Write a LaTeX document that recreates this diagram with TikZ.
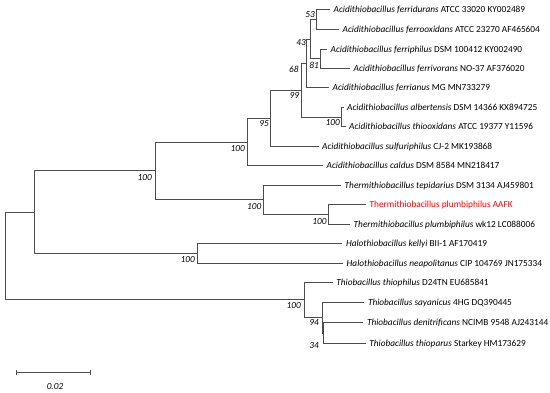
\documentclass[tikz,border=0pt]{standalone}
\usepackage{fontspec}
\setmainfont{Carlito}

\begin{document}
\begin{tikzpicture}[x=1pt,y=-1pt,
  br/.style={draw=black!70,line width=0.8pt},
  leaf/.style={anchor=base west,inner sep=0pt,xshift=3.5pt,yshift=-3.1pt,font=\fontsize{9.3}{10}\selectfont},
  boot/.style={anchor=east,inner sep=0pt,font=\fontsize{9.3}{10}\selectfont\itshape}]
  \useasboundingbox (0,0) rectangle (550,393);
  % leaf tips: branch end x, row y
  \foreach \n/\x/\y in {l1/330/9.7, l2/339/29.3, l3/327/49.3, l4/350/68.3, l5/329/87.3,
      l6/343.5/107.3, l7/345.5/126.7, l8/318.5/146.3, l9/323/165.7, l10/341/185.3,
      l11/366/204.3, l12/350/224, l13/342.3/243.7, l14/343/263, l15/332.7/282,
      l16/364.3/302.5, l17/363.3/322.7, l18/365.7/343.5}
    \coordinate (\n) at (\x,\y);
  % inner nodes, y = middle of the two children
  \foreach \n/\x/\y in {n53/316.7/19.5, n81/320.7/58.8, n43/310.7/39.2, n68/306.7/63.3,
      nAlb/341.7/117, n99/301/90.1, n95/270.3/118.2, nAc/247.7/142, nPb/328.7/214.2,
      nTm/263.3/199.8, nAT/155.7/170.9, nHa/197/253.4, nUp/34/212.1, n34/323/333.1,
      n94/322.3/317.7, nTb/304.3/299.9, root/5/256}
    \coordinate (\n) at (\x,\y);
  % branches: parent |- child
  \foreach \p/\c in {n53/l1, n53/l2, n81/l3, n81/l4, n43/n53, n43/n81, n68/n43, n68/l5,
      nAlb/l6, nAlb/l7, n99/n68, n99/nAlb, n95/n99, n95/l8, nAc/n95, nAc/l9,
      nPb/l11, nPb/l12, nTm/l10, nTm/nPb, nAT/nAc, nAT/nTm, nHa/l13, nHa/l14,
      nUp/nAT, nUp/nHa, n34/l17, n34/l18, n94/l16, n94/n34, nTb/l15, nTb/n94,
      root/nUp, root/nTb}
    \draw[br] (\p) |- (\c);
  % bootstrap values
  \foreach \n/\b/\dx/\dy in {n53/53/-1.7/-4.5, n43/43/-4.7/3.5, n81/81/-1.7/6.2, n68/68/-8/6,
      n99/99/-1.7/4.9, nAlb/100/-1.7/5.7, n95/95/-1.3/5.8, nAc/100/-2.7/6.3,
      nAT/100/-3.7/6.4, nTm/100/-1.8/7, nPb/100/-2/7.5, nHa/100/-2/6.6,
      nTb/100/-3.3/6.1, n94/94/-3.3/4.3, n34/34/-4/12}
    \node[boot] (b\n) at ([shift={(\dx,\dy)}]\n) {\b};
  % taxa
  \node[leaf] (t1) at (l1) {\textit{Acidithiobacillus ferridurans} ATCC 33020 KY002489};
  \node[leaf] (t2) at (l2) {\textit{Acidithiobacillus ferrooxidans} ATCC 23270 AF465604};
  \node[leaf] (t3) at (l3) {\textit{Acidithiobacillus ferriphilus} DSM 100412 KY002490};
  \node[leaf] (t4) at (l4) {\textit{Acidithiobacillus ferrivorans} NO-37 AF376020};
  \node[leaf] (t5) at (l5) {\textit{Acidithiobacillus ferrianus} MG MN733279};
  \node[leaf] (t6) at (l6) {\textit{Acidithiobacillus albertensis} DSM 14366 KX894725};
  \node[leaf] (t7) at (l7) {\textit{Acidithiobacillus thiooxidans} ATCC 19377 Y11596};
  \node[leaf] (t8) at (l8) {\textit{Acidithiobacillus sulfuriphilus} CJ-2 MK193868};
  \node[leaf] (t9) at (l9) {\textit{Acidithiobacillus caldus} DSM 8584 MN218417};
  \node[leaf] (t10) at (l10) {\textit{Thermithiobacillus tepidarius} DSM 3134 AJ459801};
  \node[leaf,text=red] (t11) at (l11) {Thermithiobacillus plumbiphilus AAFK};
  \node[leaf] (t12) at (l12) {\textit{Thermithiobacillus plumbiphilus} wk12 LC088006};
  \node[leaf] (t13) at (l13) {\textit{Halothiobacillus kellyi} BII-1 AF170419};
  \node[leaf] (t14) at (l14) {\textit{Halothiobacillus neapolitanus} CIP 104769 JN175334};
  \node[leaf] (t15) at (l15) {\textit{Thiobacillus thiophilus} D24TN EU685841};
  \node[leaf] (t16) at (l16) {\textit{Thiobacillus sayanicus} 4HG DQ390445};
  \node[leaf] (t17) at (l17) {\textit{Thiobacillus denitrificans} NCIMB 9548 AJ243144};
  \node[leaf] (t18) at (l18) {\textit{Thiobacillus thioparus} Starkey HM173629};
  % scale bar
  \coordinate (s1) at (16,372.3);
  \coordinate (s2) at (90.7,372.3);
  \draw[br] (s1) -- (s2);
  \draw[br] ([yshift=2.5pt]s1) -- ([yshift=-2.5pt]s1);
  \draw[br] ([yshift=2.5pt]s2) -- ([yshift=-2.5pt]s2);
  \node[boot,anchor=center] (sbl) at (55,386.7) {0.02};
\end{tikzpicture}
\end{document}
